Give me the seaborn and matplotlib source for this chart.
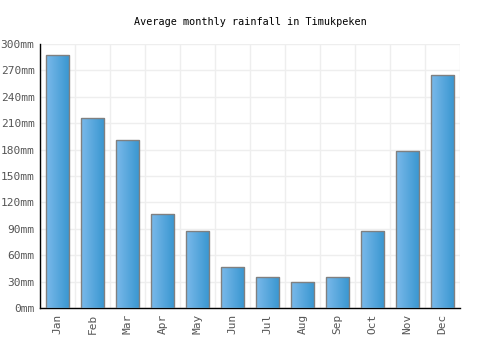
import numpy as np
import pandas as pd
import matplotlib
matplotlib.use('Agg')
import matplotlib.pyplot as plt
import seaborn as sns
from matplotlib.colors import LinearSegmentedColormap

months = ['Jan', 'Feb', 'Mar', 'Apr', 'May', 'Jun', 'Jul', 'Aug', 'Sep', 'Oct', 'Nov', 'Dec']
rainfall = [288, 216, 191, 107, 88, 47, 35, 30, 35, 88, 178, 265]
yticks = [0, 30, 60, 90, 120, 150, 180, 210, 240, 270, 300]

df = pd.DataFrame({'month': months, 'rain': rainfall})

sns.set_style('white')
plt.rcParams['font.family'] = ['DejaVu Sans Mono']

fig = plt.figure(figsize=(5, 3.5), dpi=100)
ax = fig.add_axes([0.08, 0.12, 0.84, 0.754])

sns.barplot(data=df, x='month', y='rain', color='#4ea3de', width=0.68,
            edgecolor='#808080', linewidth=1, ax=ax, zorder=3)

# gradient fill, light on the left, darker on the right
cmap = LinearSegmentedColormap.from_list('bar', ['#7ab9ea', '#3896d0'])
grad = np.linspace(0, 1, 64).reshape(1, -1)
for p in ax.patches:
    x0, y0 = p.get_x(), p.get_y()
    w, h = p.get_width(), p.get_height()
    im = ax.imshow(grad, cmap=cmap, aspect='auto', extent=[x0, x0 + w, y0, y0 + h],
                   zorder=3.5)
    im.set_clip_path(p)
    p.set_facecolor('none')
    p.set_zorder(4)

ax.set_xlim(-0.5, 11.5)
ax.set_ylim(0, 300)
ax.set_yticks(yticks)
ax.set_yticklabels([f'{v}mm' for v in yticks])
ax.set_xticks(range(len(months)))
ax.set_xticklabels(months, rotation=90)
ax.set_xticks(np.arange(-0.5, 12, 1), minor=True)
ax.tick_params(axis='x', which='minor', length=0)
ax.tick_params(axis='both', which='major', length=0, labelsize=8, colors='#555555', pad=4)
ax.grid(True, axis='y', which='major', color='#eeeeee', linewidth=1, zorder=0)
ax.grid(True, axis='x', which='minor', color='#eeeeee', linewidth=1, zorder=0)
ax.set_axisbelow(True)

ax.set_xlabel('')
ax.set_ylabel('')
for s in ['top', 'right']:
    ax.spines[s].set_visible(False)
ax.spines['left'].set_color('black')
ax.spines['bottom'].set_color('black')
ax.spines['left'].set_linewidth(1)
ax.spines['bottom'].set_linewidth(1)

ax.set_title('Average monthly rainfall in Timukpeken', fontsize=7.3, pad=14, color='black')

fig.savefig('out.png', dpi=100)
